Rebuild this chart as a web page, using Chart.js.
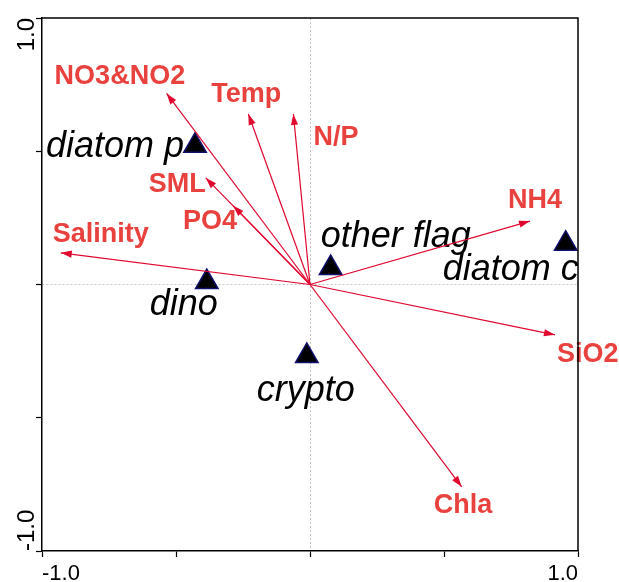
<!DOCTYPE html>
<html>
<head>
<meta charset="utf-8">
<script src="https://cdn.jsdelivr.net/npm/chart.js@4"></script>
<style>
  html, body { margin: 0; padding: 0; background: #fff; }
  #wrap { width: 619px; height: 582px; }
</style>
</head>
<body>
<div id="wrap"><canvas id="biplot" width="619" height="582"></canvas></div>
<script>
// Species scores on ordination axes 1 and 2
const speciesNames = ['diatom p', 'other flag', 'diatom c', 'dino', 'crypto'];
const speciesAxis1 = [-0.429, 0.077, 0.954, -0.385, -0.012];
const speciesAxis2 = [0.521, 0.062, 0.153, 0.009, -0.268];

// Environmental variable vectors (arrow tips, from the origin)
const envNames = ['NO3&NO2', 'Temp', 'N/P', 'SML', 'PO4', 'Salinity', 'NH4', 'SiO2', 'Chla'];
const envAxis1 = [-0.535, -0.230, -0.062, -0.389, -0.287, -0.930, 0.821, 0.914, 0.566];
const envAxis2 = [0.717, 0.640, 0.640, 0.400, 0.296, 0.119, 0.238, -0.189, -0.759];

// Axis ticks
const tickValues = [-1, -0.5, 0, 0.5, 1];
const tickLabels = ['-1.0', '', '', '', '1.0'];

// Text placement: pixel offset (start, baseline) of each label from its marker
const speciesLabelOffset = [[-149, 11], [-10, -21], [-123, 36], [-57, 33], [-50, 45]];
const envLabelOffset = [[-112, -9], [-37, -12], [20, 31], [-57, 14], [-50, 23], [-8, -11], [-22, -13], [2, 27], [-28, 26]];

const FONT = '"Liberation Sans", Arial, Helvetica, sans-serif';
const ARROW = '#e0072f';
const ENV_TEXT = '#e8413e';

const envDatasets = envNames.map((name, i) => ({
  type: 'line',
  label: name,
  data: [{ x: 0, y: 0 }, { x: envAxis1[i], y: envAxis2[i] }],
  borderColor: ARROW,
  borderWidth: 1.2,
  pointRadius: 0,
  fill: false,
  tension: 0,
  order: 0,
  clip: false
}));

const speciesDataset = {
  type: 'scatter',
  label: 'species',
  data: speciesAxis1.map((x, i) => ({ x, y: speciesAxis2[i] })),
  pointStyle: 'triangle',
  pointRadius: 13,
  pointHoverRadius: 13,
  backgroundColor: '#000',
  borderColor: '#10106e',
  borderWidth: 1.5,
  order: 1,
  clip: false
};

// Arrowheads, text labels, frame and rotated y tick labels
const biplotDecor = {
  id: 'biplotDecor',
  beforeDatasetsDraw(chart) {
    const { ctx, scales: { x, y } } = chart;
    ctx.save();
    ctx.textAlign = 'left';
    ctx.textBaseline = 'alphabetic';
    ctx.fillStyle = '#000';
    ctx.font = 'italic 36px ' + FONT;
    speciesNames.forEach((name, i) => {
      const px = x.getPixelForValue(speciesAxis1[i]);
      const py = y.getPixelForValue(speciesAxis2[i]);
      ctx.fillText(name, px + speciesLabelOffset[i][0], py + speciesLabelOffset[i][1]);
    });
    ctx.fillStyle = ENV_TEXT;
    ctx.font = 'bold 27px ' + FONT;
    envNames.forEach((name, i) => {
      const px = x.getPixelForValue(envAxis1[i]);
      const py = y.getPixelForValue(envAxis2[i]);
      ctx.fillText(name, px + envLabelOffset[i][0], py + envLabelOffset[i][1]);
    });
    ctx.restore();
  },
  afterDatasetsDraw(chart) {
    const { ctx } = chart;
    ctx.save();
    ctx.fillStyle = ARROW;
    chart.data.datasets.forEach((ds, di) => {
      if (ds.type !== 'line') return;
      const pts = chart.getDatasetMeta(di).data;
      const a = pts[0], b = pts[1];
      const ang = Math.atan2(b.y - a.y, b.x - a.x);
      const len = 11, half = 3.6;
      ctx.beginPath();
      ctx.moveTo(b.x, b.y);
      ctx.lineTo(b.x - len * Math.cos(ang) + half * Math.sin(ang), b.y - len * Math.sin(ang) - half * Math.cos(ang));
      ctx.lineTo(b.x - len * Math.cos(ang) - half * Math.sin(ang), b.y - len * Math.sin(ang) + half * Math.cos(ang));
      ctx.closePath();
      ctx.fill();
    });
    ctx.restore();
  },
  afterDraw(chart) {
    const { ctx, chartArea: ca, scales: { y } } = chart;
    ctx.save();
    ctx.strokeStyle = '#000';
    ctx.lineWidth = 1.5;
    ctx.beginPath();
    ctx.moveTo(ca.left, ca.top);
    ctx.lineTo(ca.right, ca.top);
    ctx.lineTo(ca.right, ca.bottom);
    ctx.stroke();
    // vertical axis labels, rotated to read upward
    ctx.fillStyle = '#000';
    ctx.font = '24px ' + FONT;
    ctx.textBaseline = 'alphabetic';
    tickValues.forEach((v, i) => {
      if (!tickLabels[i]) return;
      const py = y.getPixelForValue(v);
      ctx.save();
      ctx.translate(34, py);
      ctx.rotate(-Math.PI / 2);
      ctx.textAlign = v > 0 ? 'right' : 'left';
      ctx.fillText(tickLabels[i], 0, 0);
      ctx.restore();
    });
    ctx.restore();
  }
};

const gridColor = c => (c.tick && c.tick.value === 0 ? '#c4c4c4' : 'rgba(0,0,0,0)');

new Chart(document.getElementById('biplot'), {
  data: { datasets: [...envDatasets, speciesDataset] },
  options: {
    responsive: false,
    animation: false,
    events: [],
    layout: { padding: { top: 18, right: 41, bottom: 0, left: 0 } },
    plugins: { legend: { display: false }, tooltip: { enabled: false } },
    scales: {
      x: {
        type: 'linear',
        min: -1,
        max: 1,
        afterBuildTicks: s => { s.ticks = tickValues.map(v => ({ value: v })); },
        afterFit: s => { s.height = 31; },
        ticks: {
          callback: (v, i) => tickLabels[i],
          align: 'inner',
          autoSkip: false,
          maxRotation: 0,
          padding: 4,
          color: '#000',
          font: { family: FONT, size: 22 }
        },
        grid: { color: gridColor, lineWidth: 1, tickColor: '#000', tickLength: 6, tickWidth: 1.2 },
        border: { color: '#000', width: 1.5, dash: [2, 2] }
      },
      y: {
        type: 'linear',
        min: -1,
        max: 1,
        afterBuildTicks: s => { s.ticks = tickValues.map(v => ({ value: v })); },
        afterFit: s => { s.width = 42; },
        ticks: { callback: () => '', autoSkip: false },
        grid: { color: gridColor, lineWidth: 1, tickColor: '#000', tickLength: 6, tickWidth: 1.2 },
        border: { color: '#000', width: 1.5, dash: [2, 2] }
      }
    }
  },
  plugins: [biplotDecor]
});
</script>
</body>
</html>
